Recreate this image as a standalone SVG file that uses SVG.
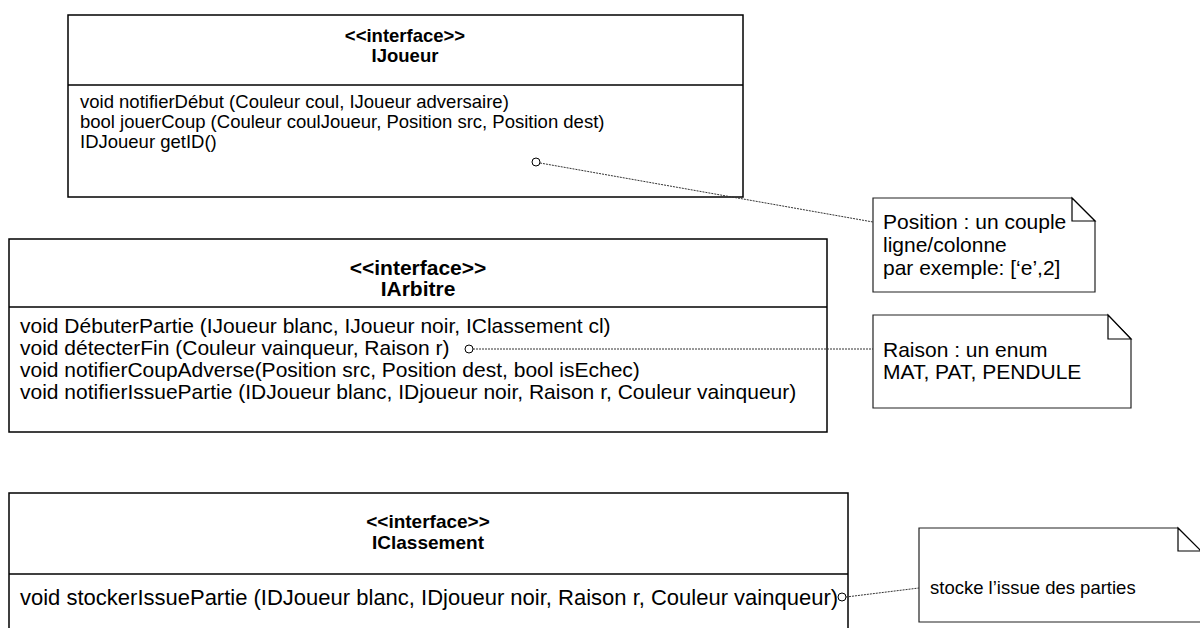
<svg xmlns="http://www.w3.org/2000/svg" width="1200" height="628" viewBox="0 0 1200 628">
<style>
.box{fill:#fff;stroke:#000;stroke-width:1.5}
.div{stroke:#000;stroke-width:1.3}
.note{fill:#fff;stroke:#222;stroke-width:1.2}
.fold{fill:#fff;stroke:#000;stroke-width:1.2}
.t{font-family:"Liberation Sans",Arial,sans-serif;fill:#000}
.h{font-family:"Liberation Sans",Arial,sans-serif;font-weight:bold;fill:#000;text-anchor:middle}
.s18{font-size:18.5px}
.s19{font-size:19px}
.s21{font-size:21px}
.s22{font-size:22px}
.c{stroke:#333;stroke-width:1;stroke-dasharray:2,1;fill:none}
.pin{fill:#fff;stroke:#000;stroke-width:1}
</style>
<rect width="1200" height="628" fill="#fff"/>
<g id="IJoueur">
<rect class="box" x="68" y="15" width="675" height="182"/>
<line class="div" x1="68" y1="85" x2="743" y2="85"/>
<text class="h s18" x="405" y="42">&lt;&lt;interface&gt;&gt;</text>
<text class="h s18" x="405" y="62">IJoueur</text>
<text class="t s18" x="80" y="108">void notifierDébut (Couleur coul, IJoueur adversaire)</text>
<text class="t s18" x="80" y="128">bool jouerCoup (Couleur coulJoueur, Position src, Position dest)</text>
<text class="t s18" x="80" y="148">IDJoueur getID()</text>
</g>
<g id="IArbitre">
<rect class="box" x="9" y="239" width="818" height="193"/>
<line class="div" x1="9" y1="307" x2="827" y2="307"/>
<text class="h s21" x="418" y="275">&lt;&lt;interface&gt;&gt;</text>
<text class="h s21" x="418" y="296">IArbitre</text>
<text class="t s21" x="20" y="333">void DébuterPartie (IJoueur blanc, IJoueur noir, IClassement cl)</text>
<text class="t s21" x="20" y="355">void détecterFin (Couleur vainqueur, Raison r)</text>
<text class="t s21" x="20" y="377">void notifierCoupAdverse(Position src, Position dest, bool isEchec)</text>
<text class="t s21" x="20" y="399">void notifierIssuePartie (IDJoueur blanc, IDjoueur noir, Raison r, Couleur vainqueur)</text>
</g>
<g id="IClassement">
<rect class="box" x="9" y="493" width="839" height="150"/>
<line class="div" x1="9" y1="574" x2="848" y2="574"/>
<text class="h s19" x="428" y="528">&lt;&lt;interface&gt;&gt;</text>
<text class="h s19" x="428" y="549">IClassement</text>
<text class="t s22" x="20" y="605">void stockerIssuePartie (IDJoueur blanc, IDjoueur noir, Raison r, Couleur vainqueur)</text>
</g>
<g id="note-position">
<path class="note" d="M873,198 H1072 L1095,221 V292 H873 Z"/>
<path class="fold" d="M1072,198 V221 H1095 Z"/>
<text class="t s21" x="883" y="229">Position : un couple</text>
<text class="t s21" x="883" y="252">ligne/colonne</text>
<text class="t s21" x="883" y="275">par exemple: [‘e’,2]</text>
</g>
<g id="note-raison">
<path class="note" d="M873,315 H1108 L1131,339 V408 H873 Z"/>
<path class="fold" d="M1108,315 V339 H1131 Z"/>
<text class="t s21" x="883" y="357">Raison : un enum</text>
<text class="t s21" x="883" y="379">MAT, PAT, PENDULE</text>
</g>
<g id="note-classement">
<path class="note" d="M919,528 H1178 L1201,551 V622 H919 Z"/>
<path class="fold" d="M1178,528 V551 H1201 Z"/>
<text class="t s18" x="930" y="594">stocke l’issue des parties</text>
</g>
<g id="connectors">
<line class="c" x1="540" y1="163" x2="873" y2="222"/>
<line class="c" x1="473" y1="349" x2="873" y2="349"/>
<line class="c" x1="846" y1="597" x2="919" y2="588"/>
<circle class="pin" cx="536" cy="162" r="4"/>
<circle class="pin" cx="469" cy="349" r="4"/>
<circle class="pin" cx="842" cy="597" r="4"/>
</g>
</svg>
